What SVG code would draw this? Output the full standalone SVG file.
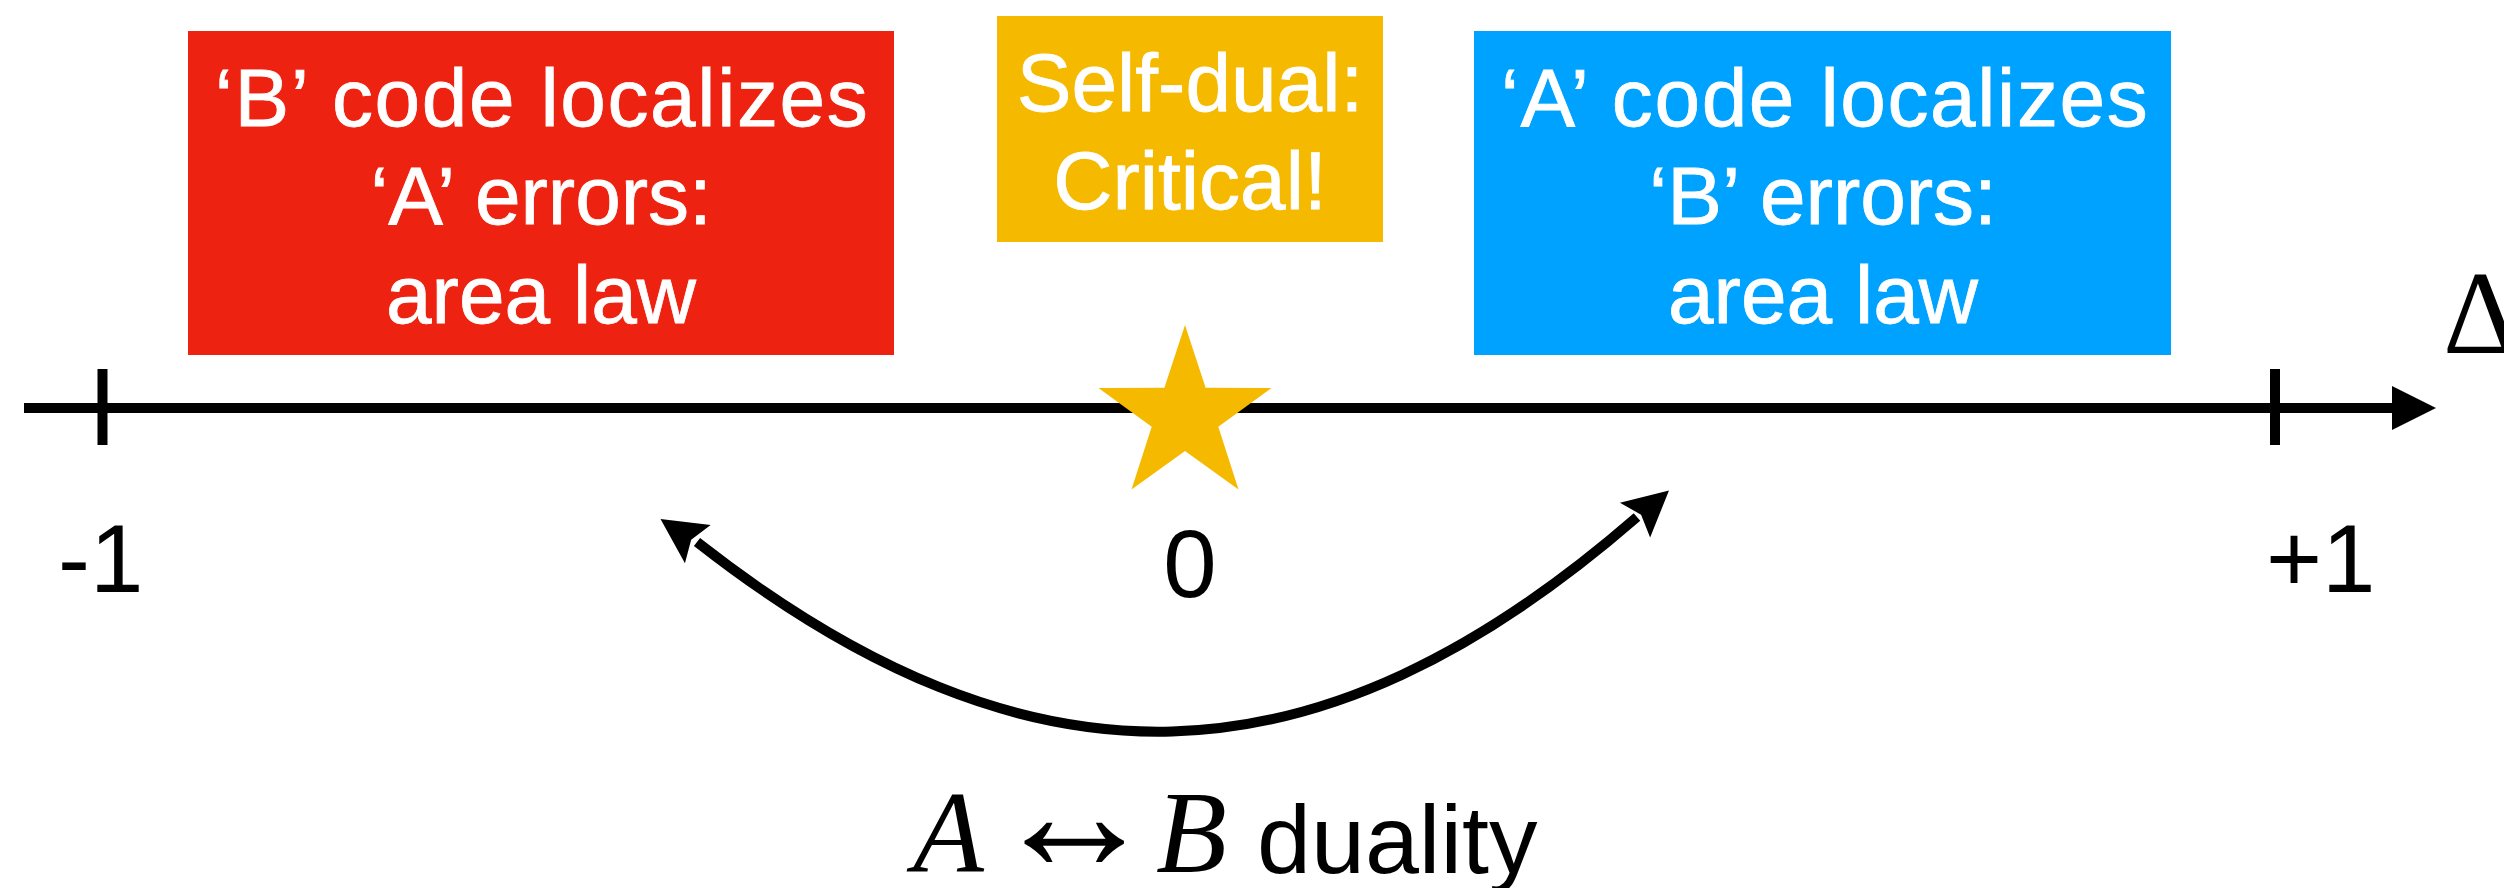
<svg xmlns="http://www.w3.org/2000/svg" xmlns:xlink="http://www.w3.org/1999/xlink" width="2504" height="888" viewBox="0 0 2504 888">
  <style>
    .box-text { font-family: "Liberation Sans", Arial, sans-serif; font-size: 82px; fill: #ffffff; stroke: #ffffff; stroke-width: 0.8; text-anchor: middle; }
    .wide { letter-spacing: 1.6px; }
    .axis-label { font-family: "Liberation Sans", Arial, sans-serif; font-size: 96px; fill: #000000; }
    .math { font-family: "Liberation Serif", "Times New Roman", serif; font-style: italic; font-size: 116px; fill: #000000; }
    .sym { font-family: "Liberation Serif", "DejaVu Serif", serif; font-size: 168px; fill: #000000; }
    .plain { font-family: "Liberation Sans", Arial, sans-serif; font-size: 97px; fill: #000000; }
    .tick { stroke: #000000; stroke-width: 10; }
    .arc { fill: none; stroke: #000000; stroke-width: 10; }
  </style>
  <defs>
    <path id="ah" d="M0,0 L-45,-23 L-37,0 L-45,23 Z" fill="#000000"/>
  </defs>

  <rect width="2504" height="888" fill="#ffffff"/>

  <g id="axis">
    <line x1="24" y1="408" x2="2396" y2="408" class="tick"/>
    <polygon points="2392,386 2436,408 2392,430" fill="#000000"/>
    <line x1="102.5" y1="369" x2="102.5" y2="445" class="tick"/>
    <line x1="2275" y1="369" x2="2275" y2="445" class="tick"/>
    <text x="2443" y="353" font-family="'Liberation Serif', 'Times New Roman', serif" font-size="118" fill="#000000">Δ</text>
  </g>

  <g id="label-minus1"><text class="axis-label" x="58" y="592">-1</text></g>
  <g id="label-zero"><text class="axis-label" x="1190" y="597" text-anchor="middle">0</text></g>
  <g id="label-plus1"><text class="axis-label" x="2266" y="592">+1</text></g>

  <g id="node-red">
    <rect x="188" y="31" width="706" height="324" fill="#ee2210"/>
    <text class="box-text wide" x="542" y="126">‘B’ code localizes</text>
    <text class="box-text" x="541" y="224">‘A’ errors:</text>
    <text class="box-text" x="541" y="323">area law</text>
  </g>

  <g id="node-yellow">
    <rect x="997" y="16" width="386" height="226" fill="#f5b900"/>
    <text class="box-text" x="1190" y="111">Self-dual:</text>
    <text class="box-text" x="1190" y="209">Critical!</text>
  </g>

  <g id="node-blue">
    <rect x="1474" y="31" width="697" height="324" fill="#00a2ff"/>
    <text class="box-text wide" x="1825" y="126">‘A’ code localizes</text>
    <text class="box-text" x="1823" y="224">‘B’ errors:</text>
    <text class="box-text" x="1823" y="323">area law</text>
  </g>

  <g id="node-star">
    <polygon points="1185,325 1205.6,387.7 1271.5,387.9 1218.3,426.8 1238.5,489.6 1185,451 1131.5,489.6 1151.7,426.8 1098.5,387.9 1164.4,387.7" fill="#f5b900"/>
  </g>

  <g id="connectors">
    <path class="arc" d="M697,542 C1030,803 1317.6,794.5 1637,517"/>
    <use xlink:href="#ah" href="#ah" transform="translate(660.5,519) rotate(214)"/>
    <use xlink:href="#ah" href="#ah" transform="translate(1669,490.5) rotate(-41)"/>
  </g>

  <g id="label-duality">
    <text class="math" x="913" y="872">A</text>
    <text class="sym" x="1074" y="870" text-anchor="middle">↔</text>
    <text class="math" x="1156" y="872">B</text>
    <text class="plain" x="1257" y="873">duality</text>
  </g>
</svg>
